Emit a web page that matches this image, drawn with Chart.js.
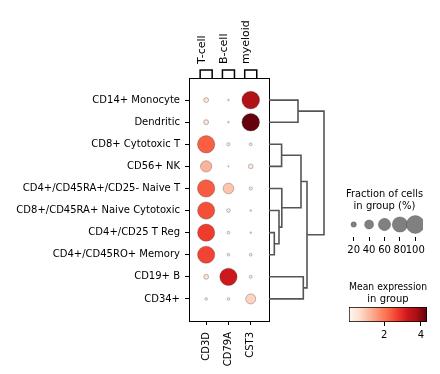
<!DOCTYPE html>
<html>
<head>
<meta charset="utf-8">
<script src="https://cdn.jsdelivr.net/npm/chart.js@4.4.0/dist/chart.umd.min.js"></script>
<style>
  body { margin: 0; background: #fff; }
  .wrap { position: relative; width: 440px; height: 374px; }
  canvas { position: absolute; left: 0; top: 0; }
</style>
</head>
<body>
<div class="wrap">
  <canvas id="dots" width="440" height="374"></canvas>
  <canvas id="dendro" width="440" height="374"></canvas>
  <canvas id="sizes" width="440" height="374"></canvas>
  <canvas id="colorbar" width="440" height="374"></canvas>
</div>
<script>
const rowLabels = [
  "CD14+ Monocyte", "Dendritic", "CD8+ Cytotoxic T", "CD56+ NK",
  "CD4+/CD45RA+/CD25- Naive T", "CD8+/CD45RA+ Naive Cytotoxic",
  "CD4+/CD25 T Reg", "CD4+/CD45RO+ Memory", "CD19+ B", "CD34+"
];
const geneLabels = ["CD3D", "CD79A", "CST3"];
const groupLabels = ["T-cell", "B-cell", "myeloid"];
const groupStart = [0, 1, 2];
const groupEnd = [0, 1, 2];

// fraction of cells in group expressing the gene (0-1), rows top to bottom
const fracCD3D  = [0.18, 0.18, 0.95, 0.54, 0.95, 0.94, 0.94, 0.94, 0.18, 0.08];
const fracCD79A = [0.04, 0.04, 0.10, 0.03, 0.50, 0.12, 0.08, 0.08, 0.95, 0.08];
const fracCST3  = [0.98, 0.97, 0.09, 0.17, 0.10, 0.04, 0.04, 0.08, 0.09, 0.46];
// mean expression in group
const exprCD3D  = [0.50, 0.50, 2.33, 1.23, 2.37, 2.50, 2.74, 2.63, 0.60, 0.20];
const exprCD79A = [0.20, 0.20, 0.30, 0.20, 1.00, 0.35, 0.30, 0.30, 3.25, 0.25];
const exprCST3  = [3.65, 4.33, 0.35, 0.45, 0.30, 0.20, 0.25, 0.30, 0.30, 0.80];

// dendrogram merges: [childA, childB, height], new nodes numbered from 10
const linkage = [
  [6, 7, 5.3],
  [5, 10, 10],
  [4, 11, 12.8],
  [2, 3, 12.6],
  [13, 12, 32],
  [0, 1, 29],
  [8, 9, 34.3],
  [14, 16, 38],
  [15, 17, 55]
];

const sizeTicks = [20, 40, 60, 80, 100];
const colorTicks = [2, 4];
const exprMin = 0.08;
const exprMax = 4.33;

Chart.defaults.font.family = "'DejaVu Sans', sans-serif";
Chart.defaults.font.size = 10;
Chart.defaults.color = "#000";

const REDS = ["#fff5f0", "#fee0d2", "#fcbba1", "#fc9272", "#fb6a4a", "#ef3b2c", "#cb181d", "#a50f15", "#67000d"];

function hexToRgb(h) {
  return [1, 3, 5].map(i => parseInt(h.slice(i, i + 2), 16));
}

function reds(t) {
  t = Math.max(0, Math.min(1, t));
  const p = t * (REDS.length - 1);
  const i = Math.min(REDS.length - 2, Math.floor(p));
  const f = p - i;
  const a = hexToRgb(REDS[i]);
  const b = hexToRgb(REDS[i + 1]);
  const c = a.map((v, k) => Math.round(v + (b[k] - v) * f));
  return `rgb(${c[0]}, ${c[1]}, ${c[2]})`;
}

function dotRadius(frac) {
  return 9 * Math.pow(frac, 0.75);
}

const dotEdge = "rgba(60, 60, 60, 0.55)";

// ---------- main dot plot ----------
const fracs = [fracCD3D, fracCD79A, fracCST3];
const exprs = [exprCD3D, exprCD79A, exprCST3];
const dotData = [];
const dotR = [];
const dotC = [];
geneLabels.forEach((g, j) => {
  rowLabels.forEach((r, i) => {
    dotData.push({ x: j, y: i });
    dotR.push(dotRadius(fracs[j][i]));
    dotC.push(reds((exprs[j][i] - exprMin) / (exprMax - exprMin)));
  });
});

const bracketSets = groupLabels.map((g, k) => ({
  data: [
    { x: groupStart[k] - 0.27, y: -1 },
    { x: groupStart[k] - 0.27, y: -1.36 },
    { x: groupEnd[k] + 0.27, y: -1.36 },
    { x: groupEnd[k] + 0.27, y: -1 }
  ],
  showLine: true,
  pointRadius: 0,
  borderColor: "#000",
  borderWidth: 1.5,
  clip: false
}));

const xMin = -0.77, xMax = 2.82;
// chart.js pulls rotated top labels to the left, so the top scale is shifted back
const topShift = 0.4;

new Chart(document.getElementById("dots"), {
  type: "scatter",
  data: {
    datasets: [
      {
        data: dotData,
        pointRadius: dotR,
        pointBackgroundColor: dotC,
        pointBorderColor: dotEdge,
        pointBorderWidth: 0.6
      },
      ...bracketSets
    ]
  },
  options: {
    responsive: false,
    animation: false,
    layout: { padding: { left: 0, right: 170, top: 0, bottom: 0 } },
    plugins: { legend: { display: false }, tooltip: { enabled: false } },
    scales: {
      x: {
        type: "linear", position: "bottom", min: xMin, max: xMax,
        afterBuildTicks: a => { a.ticks = geneLabels.map((_, i) => ({ value: i })); },
        afterFit: a => { a.height = 53; },
        ticks: { callback: v => geneLabels[v], minRotation: 90, maxRotation: 90, padding: 7, autoSkip: false },
        grid: { drawOnChartArea: false, tickLength: 4, color: "#000" },
        border: { color: "#000", width: 1 }
      },
      x2: {
        type: "linear", position: "top", min: xMin - topShift, max: xMax - topShift,
        afterBuildTicks: a => { a.ticks = groupLabels.map((_, i) => ({ value: i })); },
        afterFit: a => { a.height = 78; },
        ticks: { callback: v => groupLabels[v], minRotation: 90, maxRotation: 90, padding: 14, autoSkip: false, font: { size: 11 } },
        grid: { display: false, drawTicks: false },
        border: { color: "#000", width: 1 }
      },
      y: {
        type: "linear", position: "left", reverse: true, min: -1, max: 10,
        afterBuildTicks: a => { a.ticks = rowLabels.map((_, i) => ({ value: i })); },
        afterFit: a => { a.width = 189; },
        ticks: { callback: v => rowLabels[v], padding: 5, autoSkip: false },
        grid: { drawOnChartArea: false, tickLength: 4, color: "#000" },
        border: { color: "#000", width: 1 }
      },
      y2: {
        type: "linear", position: "right", reverse: true, min: -1, max: 10,
        afterFit: a => { a.width = 1; },
        ticks: { display: false },
        grid: { display: false, drawTicks: false },
        border: { color: "#000", width: 1 }
      }
    }
  }
});

// ---------- dendrogram ----------
const nodeX = rowLabels.map(() => 0);
const nodeY = rowLabels.map((_, i) => i);
const dendroSets = linkage.map(([a, b, h]) => {
  nodeX.push(h);
  nodeY.push((nodeY[a] + nodeY[b]) / 2);
  return {
    data: [
      { x: nodeX[a], y: nodeY[a] },
      { x: h, y: nodeY[a] },
      { x: h, y: nodeY[b] },
      { x: nodeX[b], y: nodeY[b] }
    ],
    showLine: true,
    pointRadius: 0,
    borderColor: "#555555",
    borderWidth: 1.6,
    clip: false
  };
});

new Chart(document.getElementById("dendro"), {
  type: "scatter",
  data: { datasets: dendroSets },
  options: {
    responsive: false,
    animation: false,
    layout: { padding: { left: 269, right: 115, top: 78, bottom: 53 } },
    plugins: { legend: { display: false }, tooltip: { enabled: false } },
    scales: {
      x: { type: "linear", display: false, min: 0, max: 56 },
      y: { type: "linear", display: false, reverse: true, min: -1, max: 10 }
    }
  }
});

// ---------- dot size legend ----------
new Chart(document.getElementById("sizes"), {
  type: "scatter",
  data: {
    datasets: [{
      data: sizeTicks.map((v, i) => ({ x: i, y: 0.5 })),
      pointRadius: sizeTicks.map(v => dotRadius(v / 100)),
      pointBackgroundColor: "#808080",
      pointBorderColor: dotEdge,
      pointBorderWidth: 0.6
    }]
  },
  options: {
    responsive: false,
    animation: false,
    layout: { padding: { left: 346, right: 17, top: 188, bottom: 117 } },
    plugins: {
      legend: { display: false },
      tooltip: { enabled: false },
      title: {
        display: true,
        text: ["Fraction of cells", "in group (%)"],
        font: { size: 10, weight: "normal" },
        color: "#000",
        padding: { top: 0, bottom: 0 }
      }
    },
    scales: {
      x: {
        type: "linear", min: -0.5, max: 4.5,
        afterBuildTicks: a => { a.ticks = sizeTicks.map((_, i) => ({ value: i })); },
        afterFit: a => { a.height = 20; },
        ticks: { callback: v => sizeTicks[v], padding: 3, maxRotation: 0, autoSkip: false },
        grid: { drawOnChartArea: false, tickLength: 4, color: "#000" },
        border: { display: false }
      },
      y: { type: "linear", display: false, min: 0, max: 1 }
    }
  }
});

// ---------- colour bar ----------
function barGradient(c) {
  const ca = c.chart.chartArea;
  if (!ca) return reds(0.5);
  const g = c.chart.ctx.createLinearGradient(ca.left, 0, ca.right, 0);
  REDS.forEach((col, i) => g.addColorStop(i / (REDS.length - 1), col));
  return g;
}

new Chart(document.getElementById("colorbar"), {
  type: "bar",
  data: {
    labels: [""],
    datasets: [{
      data: [[exprMin, exprMax]],
      backgroundColor: barGradient,
      borderColor: "#000",
      borderWidth: 1,
      borderSkipped: false,
      barPercentage: 1,
      categoryPercentage: 1
    }]
  },
  options: {
    indexAxis: "y",
    responsive: false,
    animation: false,
    layout: { padding: { left: 349, right: 13, top: 281, bottom: 32 } },
    plugins: {
      legend: { display: false },
      tooltip: { enabled: false },
      title: {
        display: true,
        text: ["Mean expression", "in group"],
        font: { size: 10, weight: "normal" },
        color: "#000",
        padding: { top: 0, bottom: 2 }
      }
    },
    scales: {
      x: {
        type: "linear", min: exprMin, max: exprMax,
        afterBuildTicks: a => { a.ticks = colorTicks.map(v => ({ value: v })); },
        afterFit: a => { a.height = 20; },
        ticks: { padding: 3, maxRotation: 0 },
        grid: { drawOnChartArea: false, tickLength: 4, color: "#000" },
        border: { display: false }
      },
      y: { display: false }
    }
  }
});
</script>
</body>
</html>
